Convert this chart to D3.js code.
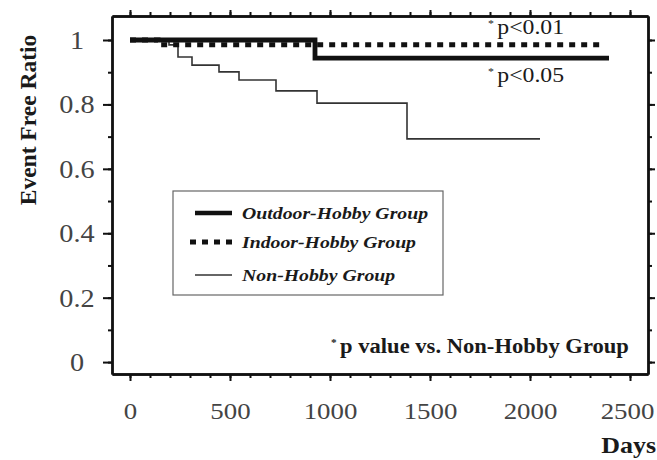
<!DOCTYPE html>
<html><head><meta charset="utf-8">
<script src="https://cdn.jsdelivr.net/npm/d3@7/dist/d3.min.js"></script>
</head>
<body style="margin:0;background:#fff">
<svg id="c" width="657" height="460"></svg>
<script>
// ---- data ----
const seriesNames = ["Outdoor-Hobby Group", "Indoor-Hobby Group", "Non-Hobby Group"];
const outdoorDays  = [0, 925, 2395];
const outdoorRatio = [1.0, 0.944, 0.944];
const indoorDays   = [0, 140, 2365];
const indoorRatio  = [1.0, 0.985, 0.985];
const nonDays      = [0, 195, 240, 310, 445, 545, 730, 935, 1385, 2050];
const nonRatio     = [1.0, 0.985, 0.947, 0.922, 0.901, 0.876, 0.842, 0.804, 0.693, 0.693];
const xTickLabels  = [0, 500, 1000, 1500, 2000, 2500];
const yTickLabels  = [0, 0.2, 0.4, 0.6, 0.8, 1];
const xMinor = d3.range(0, 2501, 100);
const yMinor = d3.range(0, 11).map(i => i / 10);

const FONT = '"Liberation Serif", "Times New Roman", serif';
const svg = d3.select("#c");
const SX = 1.13; // horizontal stretch of the original glyphs
const x = d3.scaleLinear().domain([-90, 2590]).range([112, 648]);
const y = d3.scaleLinear().domain([-0.037, 1.0745]).range([374, 16]);

function styleAxis(g){
  g.selectAll("path.domain").attr("stroke","#111").attr("stroke-width",2.4);
  g.selectAll(".tick line").attr("stroke","#111").attr("stroke-width",2);
}
// minor ticks
[[d3.axisBottom(x).tickValues(xMinor),[0,374]],
 [d3.axisTop(x).tickValues(xMinor),[0,16]],
 [d3.axisLeft(y).tickValues(yMinor),[112,0]],
 [d3.axisRight(y).tickValues(yMinor),[648,0]]].forEach(([ax,t])=>{
  const g = svg.append("g").attr("transform",`translate(${t[0]},${t[1]})`)
    .call(ax.tickSize(4).tickSizeOuter(0).tickFormat(""));
  styleAxis(g);
});
// major ticks
const gb = svg.append("g").attr("transform","translate(0,374)")
  .call(d3.axisBottom(x).tickValues(xTickLabels).tickSize(7).tickSizeOuter(0).tickFormat(d3.format("d")));
const gt = svg.append("g").attr("transform","translate(0,16)")
  .call(d3.axisTop(x).tickValues(xTickLabels).tickSize(6).tickSizeOuter(0).tickFormat(""));
const gl = svg.append("g").attr("transform","translate(112,0)")
  .call(d3.axisLeft(y).tickValues(yTickLabels).tickSize(9).tickSizeOuter(0).tickFormat(d => d === 0 || d === 1 ? String(d) : d3.format(".1f")(d)));
const gr = svg.append("g").attr("transform","translate(648,0)")
  .call(d3.axisRight(y).tickValues(yTickLabels).tickSize(7).tickSizeOuter(0).tickFormat(""));
[gb,gt,gl,gr].forEach(styleAxis);

gb.selectAll(".tick text").attr("font-size",24).attr("fill","#444")
  .attr("y",0).attr("dy",0)
  .attr("transform",(d,i)=>`translate(${d===2500?-3:0},45) scale(1.12,1)`)
  .style("font-family",FONT);
gl.selectAll(".tick text").attr("font-size",25).attr("fill","#444")
  .attr("x",0).attr("dy",0).attr("text-anchor","middle")
  .attr("transform",`translate(-35,8.5) scale(${SX},1)`)
  .style("font-family",FONT);

// curves
const line = d3.line().x(d=>x(d[0])).y(d=>y(d[1])).curve(d3.curveStepAfter);
const zip = (a,b) => a.map((v,i)=>[v,b[i]]);
svg.append("path").datum(zip(nonDays,nonRatio)).attr("d",line)
  .attr("fill","none").attr("stroke","#333").attr("stroke-width",1.6);
svg.append("path").datum(zip(outdoorDays,outdoorRatio)).attr("d",line)
  .attr("fill","none").attr("stroke","#111").attr("stroke-width",4.8);
svg.append("path").datum(zip(indoorDays,indoorRatio)).attr("d",line)
  .attr("fill","none").attr("stroke","#111").attr("stroke-width",5).attr("stroke-dasharray","6,6");

// stretched text helper
function txt(px,py,size,weight,style,anchor){
  return svg.append("text").attr("transform",`translate(${px},${py}) scale(${SX},1)`)
    .attr("font-size",size).attr("font-weight",weight).attr("font-style",style)
    .attr("text-anchor",anchor).attr("fill","#1a1a1a").style("font-family",FONT);
}
function star(t,main,size){
  t.append("tspan").attr("font-size",size*0.5).attr("dy",-size*0.35).text("*");
  t.append("tspan").attr("dy",size*0.35).attr("dx",3).text(main);
}
star(txt(488,34,21,"normal","normal","start"),"p<0.01",21);
star(txt(488,82,21,"normal","normal","start"),"p<0.05",21);
star(txt(331,353,20,"bold","normal","start"),"p value vs. Non-Hobby Group",20);

// axis titles
txt(656,453,23,"bold","normal","end").text("Days");
svg.append("text").attr("transform","translate(36,120) rotate(-90)")
  .attr("text-anchor","middle").attr("font-size",23.5).attr("font-weight","bold")
  .attr("fill","#1a1a1a").style("font-family",FONT).text("Event Free Ratio");

// legend
svg.append("rect").attr("x",173).attr("y",191).attr("width",270).attr("height",104)
  .attr("fill","none").attr("stroke","#666").attr("stroke-width",1.2);
const legY = [213, 242, 275];
const legW = [4.5, 5, 1.6];
const legDash = [null, "6,6", null];
const legX0 = [195, 190, 195];
seriesNames.forEach((n,i)=>{
  svg.append("line").attr("x1",legX0[i]).attr("x2",232).attr("y1",legY[i]).attr("y2",legY[i])
    .attr("stroke",i===2?"#333":"#111").attr("stroke-width",legW[i]).attr("stroke-dasharray",legDash[i]);
  txt(242,legY[i]+5.5,17.5,"bold","italic","start").text(n);
});
</script>
</body></html>
